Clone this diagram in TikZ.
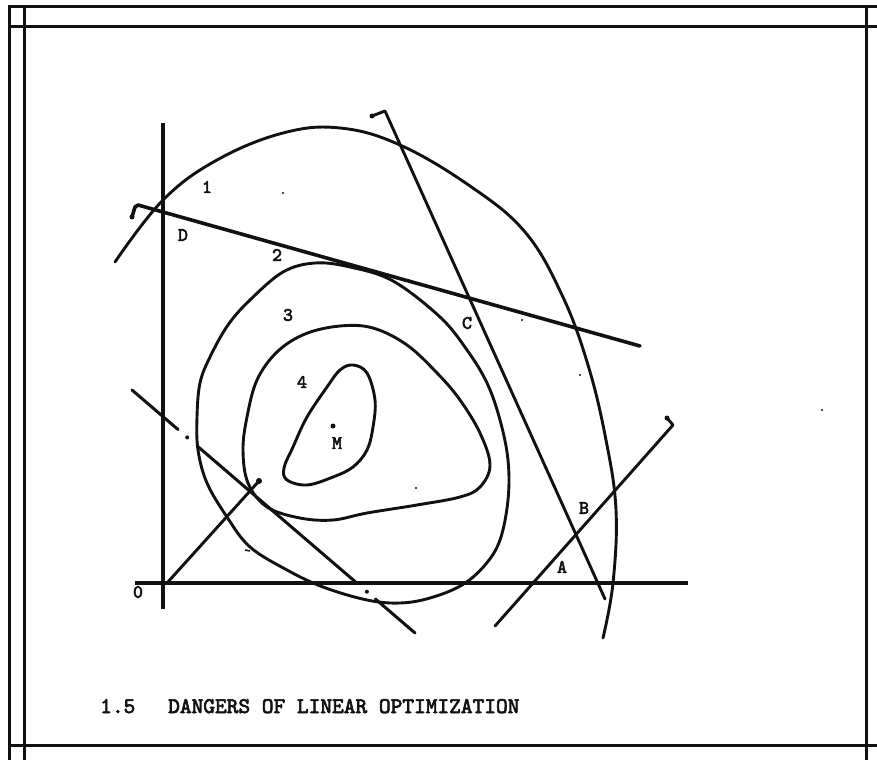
\documentclass[tikz,border=0pt]{standalone}
\usepackage{fontspec}
\newfontfamily\typew{lmmono10-regular}[Extension=.otf,FakeBold=3]
\usetikzlibrary{calc}
\definecolor{cInk}{HTML}{111111}
\tikzset{
  frm/.style={line width=3pt,cInk},
  crv/.style={line width=2.9pt,cInk,line join=round,line cap=round},
  ax/.style={line width=4.4pt,cInk},
  ln/.style={line width=3pt,cInk,line cap=round,line join=round},
  lbl/.style={font=\fontsize{19}{19}\selectfont\typew,inner sep=0pt,text=cInk},
  captxt/.style={font=\fontsize{22.3}{23}\selectfont\typew,inner sep=0pt,text=cInk},
  spot/.style={circle,fill=cInk,inner sep=0pt,minimum size=2.2pt},
  blob/.style={circle,fill=cInk,inner sep=0pt,minimum size=6pt},
}

\begin{document}
\begin{tikzpicture}[x=1pt,y=-1pt]
\useasboundingbox (0,0) rectangle (877,760);
% frame
\draw[frm] (8,7) -- (877,7);
\draw[frm] (8,27) -- (877,27);
\draw[frm] (8,745) -- (877,745);
\draw[frm] (9,7) -- (9,760);
\draw[frm] (24,7) -- (24,760);
\draw[frm] (866,7) -- (866,760);
% axes
\coordinate (yTop) at (163,123); \coordinate (yBot) at (163,609);
\coordinate (xL) at (135,583);   \coordinate (xR) at (688,583);
\draw[ax] (yTop) -- (yBot);
\draw[ax] (xL) -- (xR);
% contours
\draw[crv] plot[smooth,tension=0.65] coordinates {(115,262) (163,200) (217,160) (283,133) (340,128)
  (400,145) (470,186) (525,232) (562,295) (588,365) (606,440) (616,510) (613,583) (603,638)};
\draw[crv] plot[smooth cycle,tension=0.6] coordinates {(350,267) (393,281) (440,317) (467,350)
  (487,383) (500,420) (508,460) (508,500) (500,540) (485,565) (462,585) (430,598) (400,603)
  (367,600) (323,587) (287,570) (250,547) (227,517) (207,483) (198,450) (197,417) (200,383)
  (210,357) (228,325) (250,300) (283,272) (315,263)};
\draw[crv] plot[smooth cycle,tension=0.6] coordinates {(340,326) (373,328) (407,345) (438,374)
  (460,400) (480,433) (490,465) (480,487) (460,497) (417,505) (367,513) (333,520) (300,518)
  (267,507) (248,483) (243,450) (247,417) (257,380) (277,352) (305,334)};
\draw[crv] plot[smooth cycle,tension=0.6] coordinates {(353,365) (367,373) (375,400) (373,427)
  (367,450) (353,467) (333,477) (307,485) (287,480) (284,468) (293,447) (307,417) (327,387)
  (340,370)};
% constraint lines
\coordinate (dA) at (138,205); \coordinate (dB) at (640,346);
\draw[ln,line width=3.6pt] (132,217) -- (135,207) -- (dA) -- (dB);
\node[spot,minimum size=5pt] (dHook) at (132,217) {};
\coordinate (cA) at (385,111); \coordinate (cB) at (605,599);
\draw[ln,line width=2.9pt] (372,116) -- (cA) -- (cB);
\node[spot,minimum size=5pt] (cHook) at (372,116) {};
\coordinate (bA) at (495,626); \coordinate (bB) at (673,425);
\draw[ln,line width=2.9pt] (bA) -- (bB) -- (667,418);
\node[spot,minimum size=5pt] (bHook) at (667,418) {};
\coordinate (oA) at (167,583); \coordinate (oB) at (259,481);
\draw[ln,line width=2.9pt] (oA) -- (oB);
\node[blob] (oEnd) at (oB) {};
\coordinate (e1) at (132,390); \coordinate (e2) at (415,633);
\draw[ln] (e1) -- ($(e1)!0.163!(e2)$);
\draw[ln] ($(e1)!0.23!(e2)$) -- ($(e1)!0.796!(e2)$);
\draw[ln] ($(e1)!0.86!(e2)$) -- (e2);
\node[spot,minimum size=4pt] (eDot1) at ($(e1)!0.195!(e2)$) {};
\node[spot,minimum size=4pt] (eDot2) at ($(e1)!0.83!(e2)$) {};
% stray marks
\node[spot] (s1) at (283,193) {};
\node[spot] (s2) at (522,320) {};
\node[spot] (s3) at (580,375) {};
\node[spot] (s4) at (822,410) {};
\node[spot] (s5) at (416,488) {};
\draw[cInk,line width=1.5pt] (245,550) -- (250,551);
\node[spot,minimum size=5pt] (mDot) at (333,426) {};
% labels
\node[lbl] (l1) at (207,187) {1};
\node[lbl] (l2) at (277,255) {2};
\node[lbl] (l3) at (288,315) {3};
\node[lbl] (l4) at (302,382) {4};
\node[lbl] (lD) at (183,235) {D};
\node[lbl] (lC) at (467,323) {C};
\node[lbl] (lB) at (584,508) {B};
\node[lbl] (lA) at (562,567) {A};
\node[lbl] (lM) at (337,443) {M};
\node[lbl] (lO) at (138,592) {0};
\node[captxt,anchor=base west] (num) at (100,713) {1.5};
\node[captxt,anchor=base west] (title) at (168,713) {DANGERS OF LINEAR OPTIMIZATION};
\end{tikzpicture}
\end{document}
